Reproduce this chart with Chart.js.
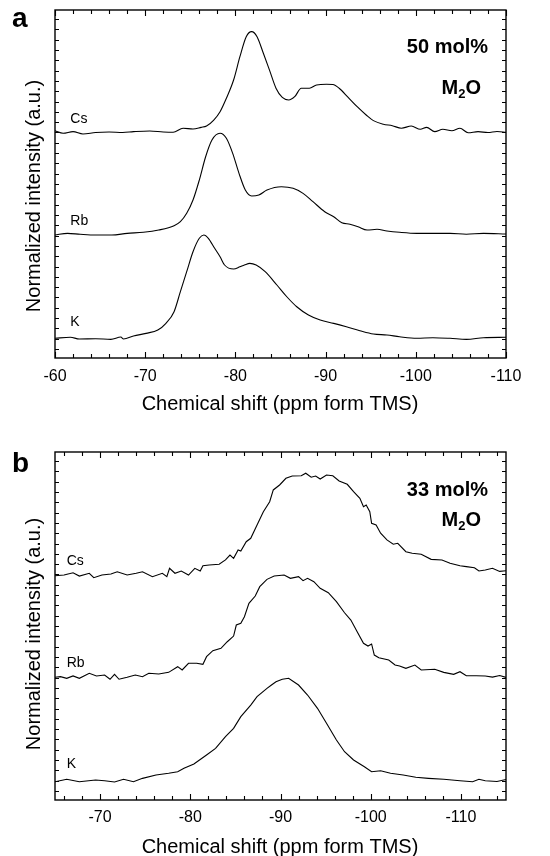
<!DOCTYPE html>
<html><head><meta charset="utf-8">
<script src="https://cdn.jsdelivr.net/npm/chart.js@4/dist/chart.umd.min.js"></script>
<style>
html,body{margin:0;padding:0;background:#fff;width:550px;height:856px;overflow:hidden}
canvas{position:absolute;left:0}
#ca{top:0}#cb{top:430px}
</style></head><body>
<canvas id="ca" width="550" height="430"></canvas>
<canvas id="cb" width="550" height="426"></canvas>
<script>
// ---- data ----
const seriesNames = ['Cs', 'Rb', 'K'];
const offsets = [21, 11, 1];            // vertical stacking of the spectra (a.u.)
const xTickLabelsA = [-60, -70, -80, -90, -100, -110];
const xTickLabelsB = [-70, -80, -90, -100, -110];

// panel a: 50 mol% M2O
const A_Cs_ppm = [-60,-60.9,-62,-63.1,-64.5,-66,-67.5,-68.7,-70.5,-72,-73.1,-74.2,-75.3,-76.2,-76.8,-77.6,-78.3,-79,-79.8,-80.5,-81.2,-81.8,-82.4,-83.1,-83.8,-84.5,-85.2,-85.9,-86.6,-87.3,-88.2,-89,-90.1,-90.8,-91.5,-92.5,-93.5,-94.5,-95.3,-96.4,-97.4,-98.4,-99.5,-100.5,-101.2,-102.1,-103,-104,-104.9,-105.8,-106.9,-108,-109,-110];
const A_Cs = [0.17,-0.08,0.08,-0.15,0,0.05,0,0.08,0.15,0.05,0.02,0.41,0.34,0.5,0.63,1.21,2.02,3.32,5.09,7.35,9.29,9.78,9.29,7.68,6.0,4.3,3.4,3.15,3.5,4.29,4.29,4.61,4.68,4.65,4.29,3.4,2.5,1.7,1.15,0.8,0.66,0.41,0.63,0.31,0.5,0.08,0.31,0.17,0.41,-0.02,0.08,0,0.1,0.02];
const A_Rb_ppm = [-60,-61.4,-62.8,-64.5,-66.3,-68,-69.8,-71.5,-73.2,-73.9,-74.6,-75.3,-76,-76.7,-77.4,-78.3,-79,-79.7,-80.4,-81.1,-81.8,-82.6,-83.5,-85.1,-86.4,-87.5,-88.6,-89.9,-90.9,-91.8,-92.7,-93.6,-94.6,-95.7,-96.8,-98.2,-100.1,-101.9,-103.8,-105.6,-107.5,-110];
const A_Rb = [0.06,0.22,0.13,0.06,0.06,0.22,0.32,0.54,0.96,1.35,2.16,3.45,5.39,7.65,9.27,9.92,9.44,7.98,6.04,4.42,3.84,3.94,4.42,4.74,4.59,4.10,3.29,2.32,1.83,1.25,1.10,0.86,0.54,0.61,0.45,0.32,0.22,0.22,0.22,0.13,0.22,0.16];
const A_K_ppm = [-60,-61.7,-62.7,-64.5,-66.2,-67.3,-67.6,-68.7,-70.1,-71.4,-72.3,-73.2,-73.9,-74.6,-75.3,-76,-76.5,-77,-77.7,-78.3,-78.8,-79.8,-80.5,-81,-81.6,-82.3,-83.3,-84.6,-85.7,-86.8,-88.1,-89.4,-90.9,-92.3,-93.8,-95.3,-96.8,-98.2,-100.1,-101.9,-103.8,-105.6,-107.5,-110];
const A_K = [0.04,0.14,-0.03,0,-0.06,0.16,-0.03,0.26,0.52,0.84,1.49,2.62,4.56,6.50,8.44,9.74,10.06,9.74,8.77,7.95,7.15,6.76,6.98,7.15,7.31,7.15,6.50,5.21,4.07,3.10,2.30,1.81,1.49,1.16,0.78,0.46,0.36,0.19,0.04,0.10,0.04,-0.06,0.10,0.14];

// panel b: 33 mol% M2O
const B_Cs_ppm = [-65,-66,-67,-67.7,-68.8,-69.3,-70.2,-71.2,-71.9,-73,-74,-74.7,-75.8,-76.9,-77.4,-77.7,-78.3,-79,-79.8,-80.5,-81.1,-81.4,-82.1,-83.2,-83.9,-84.4,-84.8,-85.3,-85.6,-86.2,-86.7,-87.4,-88.1,-88.8,-89.2,-89.9,-90.6,-91.3,-92.3,-92.8,-93.4,-93.9,-94.4,-95.1,-95.8,-96.5,-97.4,-98.1,-98.8,-99.2,-99.5,-99.9,-100.1,-100.6,-101.1,-101.8,-102.5,-103,-103.9,-104.6,-105.6,-106.7,-107.9,-108.8,-109.9,-110.6,-111.5,-112,-112.7,-113.5,-114.3,-115];
const B_Cs = [-0.12,-0.05,0.17,-0.15,0.12,-0.31,-0.05,0.05,0.27,-0.05,0.12,0.27,-0.21,0.12,-0.21,0.60,0.12,0.34,-0.05,0.60,0.34,0.85,0.92,0.99,1.41,1.89,1.57,2.38,2.28,3.18,3.51,4.80,6.09,7.06,8.20,8.68,9.33,9.55,9.58,9.82,9.43,9.55,9.26,9.65,9.58,9.07,8.75,8.03,7.39,6.58,6.74,6.09,4.97,4.80,4.00,3.35,2.93,3.03,2.21,2.06,1.96,1.47,1.41,1.09,0.85,0.76,0.66,0.34,0.44,0.6,0.3,0.37];
const B_Rb_ppm = [-65,-65.6,-66.3,-67,-67.7,-68.8,-69.6,-70.5,-71.1,-71.6,-72.1,-73,-73.9,-74.7,-75.4,-76.5,-77.6,-78.6,-79.1,-79.8,-80.7,-81.4,-81.8,-82.5,-83.4,-84.1,-84.8,-85.1,-85.6,-86,-86.5,-87.2,-87.7,-88.5,-89.3,-90.4,-91.1,-92,-92.5,-93,-93.7,-94.4,-95.3,-96.2,-97.1,-97.8,-98.5,-99.2,-99.7,-100.1,-100.4,-100.9,-102,-102.7,-103.2,-103.9,-104.9,-105.6,-107.1,-108.1,-109.2,-109.9,-110.6,-111.7,-112.7,-113.5,-114.3,-115];
const B_Rb = [0.03,0.09,-0.07,0.16,-0.07,0.42,0.16,0.25,-0.16,0.32,-0.16,0.03,0.25,0.09,0.42,0.35,0.51,1.06,0.74,1.39,1.39,1.29,2.03,2.61,2.84,3.48,4.03,5.10,5.27,5.91,7.21,7.91,8.82,9.53,9.85,9.95,9.63,9.79,9.40,9.63,9.30,8.66,8.23,7.36,6.29,5.58,4.45,3.33,3.06,3.26,2.19,1.93,1.71,1.22,1.13,0.90,1.22,0.74,0.81,0.51,0.32,0.57,0.18,0.18,0.16,0.05,0.2,0.02];
const B_K_ppm = [-65,-66.3,-67.7,-69.5,-70.5,-71.6,-72.6,-73.7,-74.7,-76.2,-77.6,-78.6,-79.3,-80.4,-81.8,-82.8,-83.9,-84.8,-85.6,-86.7,-87.4,-88.5,-89,-89.5,-90.2,-90.9,-92,-93,-94.1,-95.1,-96.2,-97.1,-98.1,-99.3,-100.1,-101.1,-102.2,-103.6,-105,-106.4,-108.1,-109.9,-111.3,-112,-112.7,-114,-115];
const B_K = [-0.10,0.14,-0.10,0.07,0,-0.13,0.14,-0.10,0.23,0.55,0.72,0.87,1.20,1.62,2.49,3.14,4.27,5.08,6.21,7.34,8.15,8.96,9.28,9.60,9.84,9.93,9.28,8.31,7.02,5.57,3.95,2.81,2.01,1.36,0.87,0.97,0.72,0.55,0.33,0.23,0.14,0,-0.10,0.14,0,-0.08,0.12];

// ---- rendering ----
const FONT = '"Liberation Sans", Arial, Helvetica, sans-serif';

function makeDataset(ppm, vals, i, smooth) {
  return {
    label: seriesNames[i],
    data: ppm.map((p, k) => ({x: p, y: offsets[i] + vals[k]})),
    borderColor: '#000', borderWidth: 1.1, pointRadius: 0,
    fill: false, tension: smooth ? 0.3 : 0,
    cubicInterpolationMode: smooth ? 'monotone' : 'default'
  };
}

const deco = {
  id: 'deco',
  afterDatasetsDraw(chart, args, o) {
    const ctx = chart.ctx, a = chart.chartArea, sx = chart.scales.x, sy = chart.scales.y;
    ctx.save();
    ctx.strokeStyle = '#000';
    ctx.lineWidth = 1.4;
    ctx.strokeRect(a.left, a.top, a.right - a.left, a.bottom - a.top);
    ctx.lineWidth = 1.1;
    ctx.beginPath();
    for (let v = o.xStart; v >= o.xEnd; v -= 2) {
      const p = Math.round(sx.getPixelForValue(v)) + 0.5;
      const L = (v % 10 === 0) ? 6 : 4;
      ctx.moveTo(p, a.bottom); ctx.lineTo(p, a.bottom - L);
      ctx.moveTo(p, a.top); ctx.lineTo(p, a.top + L);
    }
    for (let v = 0; v <= 32; v++) {
      const p = Math.round(sy.getPixelForValue(v)) + 0.5;
      ctx.moveTo(a.left, p); ctx.lineTo(a.left + 4, p);
      ctx.moveTo(a.right, p); ctx.lineTo(a.right - 4, p);
    }
    ctx.stroke();

    ctx.fillStyle = '#000';
    // curve labels
    ctx.font = '14px ' + FONT;
    ctx.textAlign = 'left'; ctx.textBaseline = 'alphabetic';
    seriesNames.forEach((n, i) => {
      ctx.fillText(n, sx.getPixelForValue(o.labelX), sy.getPixelForValue(offsets[i] + o.labelLift[i]));
    });
    // panel letter
    ctx.font = 'bold 28px ' + FONT;
    ctx.fillText(o.letter, o.letterX, o.letterY);
    // composition
    ctx.font = 'bold 20px ' + FONT;
    ctx.textAlign = 'right';
    ctx.fillText(o.comp, o.compRight, o.compY);
    // M2O with subscript
    ctx.textAlign = 'left';
    const wM = ctx.measureText('M').width, wO = ctx.measureText('O').width;
    ctx.font = 'bold 13px ' + FONT;
    const w2 = ctx.measureText('2').width;
    let x0 = o.m2oRight - (wM + w2 + wO);
    ctx.font = 'bold 20px ' + FONT;
    ctx.fillText('M', x0, o.m2oY);
    ctx.font = 'bold 13px ' + FONT;
    ctx.fillText('2', x0 + wM, o.m2oY + 4);
    ctx.font = 'bold 20px ' + FONT;
    ctx.fillText('O', x0 + wM + w2, o.m2oY);
    // axis titles
    ctx.font = '20px ' + FONT;
    ctx.textAlign = 'center';
    ctx.fillText('Chemical shift (ppm form TMS)', o.xTitleX, o.xTitleY);
    ctx.save();
    ctx.translate(o.yTitleX, o.yTitleY);
    ctx.rotate(-Math.PI / 2);
    ctx.textBaseline = 'middle';
    ctx.fillText('Normalized intensity (a.u.)', 0, 0);
    ctx.restore();
    ctx.restore();
  }
};

function makeChart(id, datasets, xmin, xmax, tickVals, pad, axisH, tickPad, deco_opts) {
  return new Chart(document.getElementById(id), {
    type: 'line',
    data: {datasets},
    options: {
      responsive: false, animation: false, devicePixelRatio: 1,
      layout: {padding: pad},
      plugins: {legend: {display: false}, tooltip: {enabled: false}, deco: deco_opts},
      scales: {
        x: {
          type: 'linear', min: xmin, max: xmax, reverse: true,
          grid: {display: false, drawTicks: false},
          border: {display: false},
          ticks: {color: '#000', font: {family: FONT, size: 16}, padding: tickPad,
                  autoSkip: false, maxRotation: 0, includeBounds: false},
          afterBuildTicks: s => { s.ticks = tickVals.map(v => ({value: v})); },
          afterFit: s => { s.height = axisH; }
        },
        y: {type: 'linear', min: -0.87, max: 32.88, display: false}
      }
    },
    plugins: [deco]
  });
}

makeChart('ca', [
  makeDataset(A_Cs_ppm, A_Cs, 0, true),
  makeDataset(A_Rb_ppm, A_Rb, 1, true),
  makeDataset(A_K_ppm, A_K, 2, true)
], -110, -60, xTickLabelsA, {left: 55, right: 44, top: 10, bottom: 0}, 72, 9, {
  xStart: -60, xEnd: -110, labelX: -61.7, labelLift: [0.9, 1.0, 1.2],
  letter: 'a', letterX: 12, letterY: 27, comp: '50 mol%', compRight: 488, compY: 53,
  m2oRight: 481, m2oY: 94, xTitleX: 280, xTitleY: 410, yTitleX: 34, yTitleY: 196
});

makeChart('cb', [
  makeDataset(B_Cs_ppm, B_Cs, 0, false),
  makeDataset(B_Rb_ppm, B_Rb, 1, false),
  makeDataset(B_K_ppm, B_K, 2, false)
], -115, -65, xTickLabelsB, {left: 55, right: 44, top: 22, bottom: 0}, 56, 8, {
  xStart: -66, xEnd: -114, labelX: -66.3, labelLift: [0.9, 1.0, 1.2],
  letter: 'b', letterX: 12, letterY: 42, comp: '33 mol%', compRight: 488, compY: 66,
  m2oRight: 481, m2oY: 96, xTitleX: 280, xTitleY: 423, yTitleX: 34, yTitleY: 204
});
</script>
</body></html>
